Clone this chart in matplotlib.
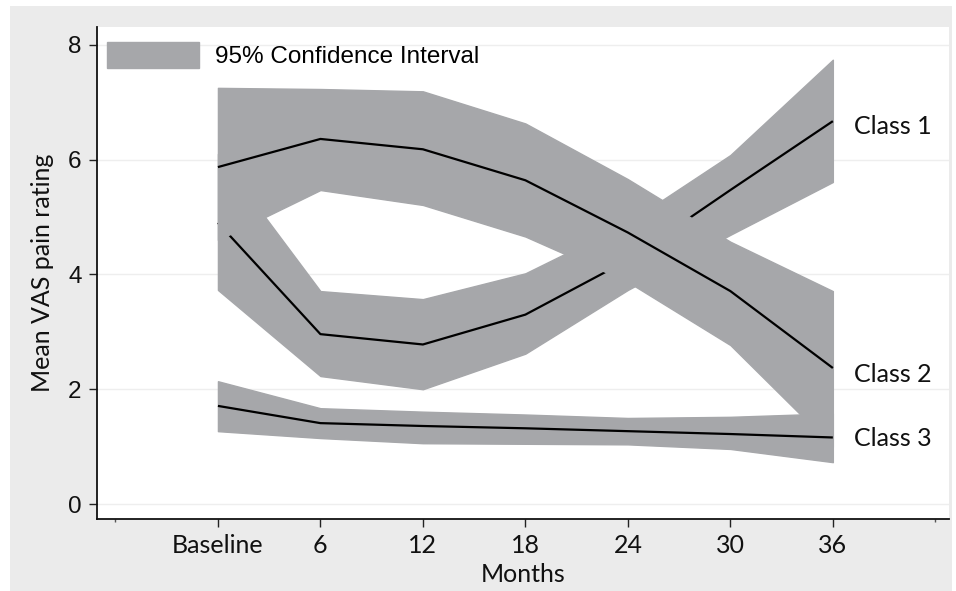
import matplotlib.pyplot as plt
from matplotlib.patches import Rectangle

# months since baseline
months = [0, 6, 12, 18, 24, 30, 36]
month_labels = ['Baseline', '6', '12', '18', '24', '30', '36']

class1_mean = [4.90, 2.96, 2.78, 3.30, 4.25, 5.47, 6.67]
class1_lo = [3.73, 2.23, 2.00, 2.62, 3.73, 4.69, 5.61]
class1_hi = [6.10, 3.71, 3.57, 4.02, 4.90, 6.08, 7.74]

class2_mean = [5.87, 6.36, 6.18, 5.64, 4.73, 3.71, 2.37]
class2_lo = [4.60, 5.47, 5.21, 4.66, 3.87, 2.77, 1.00]
class2_hi = [7.25, 7.23, 7.19, 6.63, 5.66, 4.57, 3.71]

class3_mean = [1.71, 1.41, 1.36, 1.32, 1.27, 1.22, 1.16]
class3_lo = [1.27, 1.15, 1.06, 1.05, 1.04, 0.96, 0.73]
class3_hi = [2.14, 1.67, 1.61, 1.56, 1.50, 1.52, 1.58]

class_names = ['Class 1', 'Class 2', 'Class 3']

band_col = '#a6a7aa'
bg_col = '#ebebeb'
calib = ['Lato', 'DejaVu Sans']
arial = ['Liberation Sans', 'DejaVu Sans']
# vertical nudge of the end labels, in points
label_dy = [-3.5, -5, -0.5]


fig = plt.figure(figsize=(9.56, 5.91), dpi=100, facecolor='white')
fig.patches.append(Rectangle((10/956, 0), 942/956, 585/591, transform=fig.transFigure,
                             facecolor=bg_col, edgecolor='none', zorder=-10))

ax = fig.add_axes([97/956, 72/591, 852/956, 492/591])
ax.set_facecolor('white')

series = [(class1_mean, class1_lo, class1_hi),
          (class2_mean, class2_lo, class2_hi),
          (class3_mean, class3_lo, class3_hi)]

for i, (m, lo, hi) in enumerate(series):
	lab = '95% Confidence Interval' if i == 0 else None
	# edge in the same colour so the band fully hides the line under it
	ax.fill_between(months, lo, hi, facecolor=band_col, edgecolor=band_col, linewidth=1.0,
	                zorder=2+2*i, label=lab)
	ax.plot(months, m, color='black', linewidth=1.6, solid_capstyle='butt', zorder=3+2*i)
	ax.annotate(class_names[i], xy=(months[-1], m[-1]), xytext=(15, label_dy[i]),
	            textcoords='offset points', va='center', ha='left',
	            fontsize=18, family=calib, color='#111111', zorder=20)

ax.set_xlim(-7.08, 42.8)
ax.set_ylim(-0.26, 8.31)

ax.set_xticks(months)
ax.set_xticklabels(month_labels, family=calib, fontsize=18)
ax.set_xticks([-6, 42], minor=True)
ax.set_yticks([0, 2, 4, 6, 8])
ax.set_yticklabels(['0', '2', '4', '6', '8'], family=arial, fontsize=17.5)

ax.tick_params(axis='both', which='major', direction='out', length=6, width=1,
               color='#222222', pad=5, labelcolor='#111111')
ax.tick_params(axis='x', which='minor', direction='out', length=2, width=1, color='#555555')

ax.grid(axis='y', color='#eeeeee', linewidth=1, zorder=0)
ax.set_axisbelow(True)

for s in ['top', 'right']:
	ax.spines[s].set_visible(False)
for s in ['left', 'bottom']:
	ax.spines[s].set_color('#111111')
	ax.spines[s].set_linewidth(1.3)

ax.set_xlabel('Months', family=calib, fontsize=18, labelpad=4, color='#111111')
ax.set_ylabel('Mean VAS pain rating', family=calib, fontsize=18, labelpad=10, color='#111111')

leg = ax.legend(loc='upper left', bbox_to_anchor=(0.0117, 0.97), frameon=False,
                borderpad=0, borderaxespad=0, handlelength=3.8, handleheight=1.3,
                handletextpad=0.65, prop={'family': arial, 'size': 17.5})

fig.savefig('out.png', dpi=100, facecolor=fig.get_facecolor())
